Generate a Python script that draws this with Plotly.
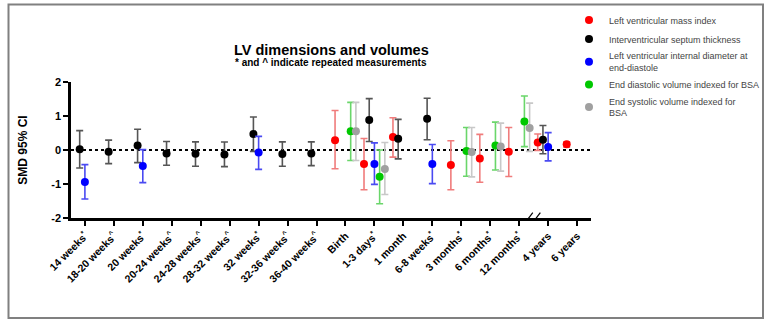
import plotly.graph_objects as go

# ---------------- data ----------------
CATEGORIES = ["14 weeks*", "18-20 weeks^", "20 weeks*", "20-24 weeks^", "24-28 weeks^",
              "28-32 weeks^", "32 weeks*", "32-36 weeks^", "36-40 weeks^", "Birth",
              "1-3 days*", "1 month", "6-8 weeks*", "3 months*", "6 months*",
              "12 months*", "4 years", "6 years"]
TICK_LABELS = ["14 weeks<sup>*</sup>", "18-20 weeks<sup>^</sup>", "20 weeks<sup>*</sup>",
               "20-24 weeks<sup>^</sup>", "24-28 weeks<sup>^</sup>", "28-32 weeks<sup>^</sup>",
               "32 weeks<sup>*</sup>", "32-36 weeks<sup>^</sup>", "36-40 weeks<sup>^</sup>",
               "Birth", "1-3 days<sup>*</sup>", "1 month", "6-8 weeks<sup>*</sup>",
               "3 months<sup>*</sup>", "6 months<sup>*</sup>", "12 months<sup>*</sup>",
               "4 years", "6 years"]
Y_TICKS = [-2, -1, 0, 1, 2]
Y_TICK_LABELS = ["-2", "-1", "0", "1", "2"]

# Left ventricular mass index
LVMI_CATS = ["Birth", "1-3 days*", "1 month", "3 months*", "6 months*", "12 months*", "4 years", "6 years"]
LVMI_SMD = [0.29, -0.41, 0.38, -0.44, -0.25, -0.05, 0.22, 0.17]
LVMI_LO = [-0.55, -1.17, -0.21, -1.17, -0.95, -0.78, -0.01, 0.08]
LVMI_HI = [1.16, 0.34, 0.95, 0.27, 0.46, 0.66, 0.47, 0.24]

# Interventricular septum thickness
IVS_CATS = ["14 weeks*", "18-20 weeks^", "20 weeks*", "20-24 weeks^", "24-28 weeks^",
            "28-32 weeks^", "32 weeks*", "32-36 weeks^", "36-40 weeks^", "1-3 days*",
            "1 month", "6-8 weeks*", "4 years"]
IVS_SMD = [0.02, -0.05, 0.13, -0.10, -0.11, -0.13, 0.47, -0.12, -0.10, 0.88, 0.33, 0.92, 0.30]
IVS_LO = [-0.53, -0.40, -0.37, -0.45, -0.48, -0.49, -0.04, -0.48, -0.46, 0.25, -0.26, 0.30, -0.11]
IVS_HI = [0.57, 0.29, 0.61, 0.25, 0.24, 0.235, 0.97, 0.24, 0.24, 1.51, 0.90, 1.52, 0.72]

# Left ventricular internal diameter at end-diastole
LVIDD_CATS = ["14 weeks*", "20 weeks*", "32 weeks*", "1-3 days*", "6-8 weeks*", "4 years"]
LVIDD_SMD = [-0.94, -0.47, -0.07, -0.41, -0.41, 0.09]
LVIDD_LO = [-1.44, -0.96, -0.57, -1.01, -0.99, -0.32]
LVIDD_HI = [-0.43, 0.01, 0.40, 0.21, 0.16, 0.51]

# End diastolic volume indexed for BSA
EDV_CATS = ["Birth", "1-3 days*", "3 months*", "6 months*", "12 months*"]
EDV_SMD = [0.55, -0.79, -0.03, 0.13, 0.84]
EDV_LO = [-0.31, -1.58, -0.77, -0.59, 0.10]
EDV_HI = [1.40, 0.00, 0.66, 0.82, 1.59]

# End systolic volume indexed for BSA
ESV_CATS = ["Birth", "1-3 days*", "3 months*", "6 months*", "12 months*"]
ESV_SMD = [0.55, -0.56, -0.06, 0.10, 0.65]
ESV_LO = [-0.31, -1.31, -0.79, -0.62, -0.04]
ESV_HI = [1.40, 0.22, 0.66, 0.79, 1.38]

SERIES = [
    ("Left ventricular mass index", LVMI_CATS, LVMI_SMD, LVMI_LO, LVMI_HI, "#ff0000", "#f07c7c"),
    ("Interventricular septum thickness", IVS_CATS, IVS_SMD, IVS_LO, IVS_HI, "#000000", "#555555"),
    ("Left ventricular internal diameter at<br>end-diastole", LVIDD_CATS, LVIDD_SMD, LVIDD_LO, LVIDD_HI, "#0000ff", "#4a4af2"),
    ("End diastolic volume indexed for BSA", EDV_CATS, EDV_SMD, EDV_LO, EDV_HI, "#00c800", "#6ad66a"),
    ("End systolic volume indexed for<br>BSA", ESV_CATS, ESV_SMD, ESV_LO, ESV_HI, "#a0a0a0", "#c8c8c8"),
]

FONT = "Liberation Sans, Arial, sans-serif"

fig = go.Figure()
for name, cats, smd, lo, hi, col, ecol in SERIES:
    fig.add_trace(go.Scatter(
        x=cats, y=smd, name=name, mode="markers",
        marker=dict(color=col, size=8),
        error_y=dict(type="data", symmetric=False,
                     array=[h - v for h, v in zip(hi, smd)],
                     arrayminus=[v - l for v, l in zip(smd, lo)],
                     color=ecol, thickness=1.6, width=3.5),
    ))

L, R, T, B = 71, 177, 82, 106
W, H = 768, 324
pw, ph = W - L - R, H - T - B

def px_x(x):
    return (x - L) / pw

def px_y(y):
    return (H - B - y) / ph

shapes = [
    # zero reference line
    dict(type="line", xref="paper", yref="y", x0=0, x1=1, y0=0, y1=0,
         line=dict(color="black", width=2, dash="dot"), layer="below"),
    # axis break marks
    dict(type="line", xref="x", yref="paper", x0=15.26, x1=15.47, y0=px_y(220.7), y1=px_y(212.7),
         line=dict(color="black", width=1.2)),
    dict(type="line", xref="x", yref="paper", x0=15.52, x1=15.73, y0=px_y(220.7), y1=px_y(212.7),
         line=dict(color="black", width=1.2)),
    # outer frame
    dict(type="rect", xref="paper", yref="paper", x0=px_x(8.5), x1=px_x(763), y0=px_y(318), y1=px_y(4.5),
         line=dict(color="#808080", width=2), fillcolor="rgba(0,0,0,0)"),
]

annotations = [
    dict(text="<b>LV dimensions and volumes</b>", xref="paper", yref="paper", x=0.5, y=px_y(50),
         showarrow=False, font=dict(family=FONT, size=14.5, color="black"), yanchor="middle"),
    dict(text="<b>* and ^ indicate repeated measurements</b>", xref="paper", yref="paper", x=0.5,
         y=px_y(62.5), showarrow=False, font=dict(family=FONT, size=10, color="black"), yanchor="middle"),
]

fig.update_layout(
    width=W, height=H,
    margin=dict(l=L, r=R, t=T, b=B, autoexpand=False),
    paper_bgcolor="white", plot_bgcolor="white",
    font=dict(family=FONT, color="black"),
    scattermode="group", scattergap=0.1,
    showlegend=True,
    legend=dict(x=px_x(569), y=px_y(5.5), xanchor="left", yanchor="top",
                font=dict(family=FONT, size=9, color="#444444"),
                bgcolor="rgba(0,0,0,0)"),
    shapes=shapes, annotations=annotations,
)
fig.update_xaxes(
    type="category", categoryorder="array", categoryarray=CATEGORIES,
    tickvals=CATEGORIES, ticktext=TICK_LABELS, tickangle=-45,
    range=[-0.48, 17.48], showgrid=False, zeroline=False,
    showline=True, linecolor="black", linewidth=2.5,
    ticks="outside", ticklen=5, tickwidth=2, tickcolor="black",
    tickfont=dict(family=FONT, size=10.5, color="black", weight="bold"),
)
fig.update_yaxes(
    range=[-2, 2], tickvals=Y_TICKS, ticktext=Y_TICK_LABELS,
    showgrid=False, zeroline=False,
    showline=True, linecolor="black", linewidth=2.5,
    ticks="outside", ticklen=5, tickwidth=2, tickcolor="black",
    tickfont=dict(family=FONT, size=11, color="black", weight="bold"),
    title=dict(text="<b>SMD 95% CI</b>", font=dict(family=FONT, size=12, color="black"), standoff=22),
)

fig.write_html("out.html", config={"displayModeBar": False},
               post_script="document.body.style.margin='0';document.body.style.overflow='hidden';")
